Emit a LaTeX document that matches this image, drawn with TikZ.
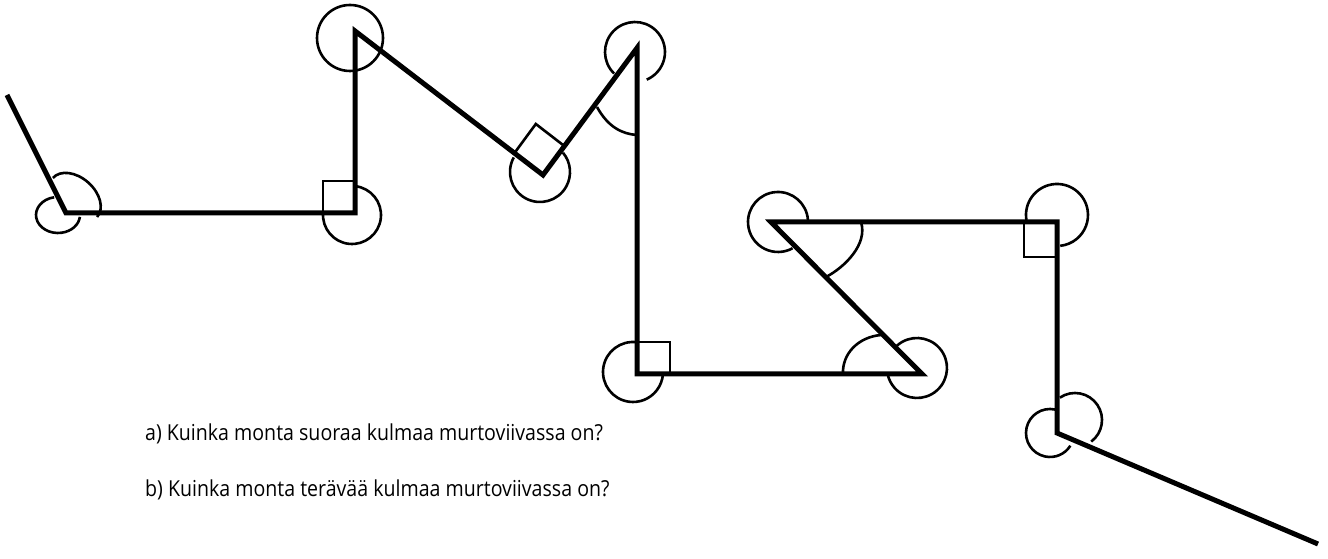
\documentclass[tikz,border=0pt]{standalone}
\usepackage{fontspec}
\setmainfont{Open Sans}
\begin{document}
\begin{tikzpicture}[x=1pt,y=1pt,
  polyline/.style={line width=5pt, line join=miter, line cap=butt},
  anglemark/.style={line width=2.6pt},
  question/.style={anchor=base west, inner sep=0pt, xscale=0.89, font=\fontsize{22}{26}\selectfont}]
\useasboundingbox (0,0) rectangle (1328,559);
% vertices
\coordinate (S) at (7,464);
\coordinate (V1) at (66,346);
\coordinate (V2) at (355,346);
\coordinate (V3) at (355,528);
\coordinate (V4) at (543,384);
\coordinate (V5) at (637,511);
\coordinate (V6) at (637,185);
\coordinate (V7) at (922,185);
\coordinate (V8) at (771,337);
\coordinate (V9) at (1057,337);
\coordinate (V10) at (1057,126);
\coordinate (E) at (1318,15);
% angle marks
% V1
\draw[anglemark] (58,344) ++(100:22 and 18) arc[start angle=100, end angle=354, x radius=22, y radius=18];
\draw[anglemark, shift={(75,361.5)}, rotate=-41.5] (-29.5,0) arc[start angle=180, end angle=0, x radius=29.5, y radius=20];
% V2
\draw[anglemark] (323,346) rectangle (355,378);
\draw[anglemark] (352,344) ++(84:29) arc[start angle=84, end angle=-184, radius=29];
% V3
\draw[anglemark] (350,521) circle[radius=33];
% V4
\draw[anglemark] (543,384) -- (514.5,406) -- (535.8,435) -- (564.3,413) -- cycle;
\draw[anglemark] (540,387) ++(151:30) arc[start angle=151, end angle=400, radius=30];
% V5
\draw[anglemark] (635,507) ++(226:30) arc[start angle=226, end angle=-67, radius=30];
\draw[anglemark] (597,452) .. controls (608,432) and (622,425) .. (637,424);
% V6
\draw[anglemark] (637,185) rectangle (670,217);
\draw[anglemark] (633,187) ++(82:30) arc[start angle=82, end angle=356, radius=30];
% V7
\draw[anglemark] (917,191) ++(132:30) arc[start angle=132, end angle=-168, radius=30];
\draw[anglemark] (843,185) .. controls (842,205) and (858,222) .. (881,224);
% V8
\draw[anglemark] (778,337) ++(4:30) arc[start angle=4, end angle=299, radius=30];
\draw[anglemark] (861,337) .. controls (868,315) and (845,292) .. (826,282);
% V9
\draw[anglemark] (1024,337) rectangle (1057,302);
\draw[anglemark] (1057,344) ++(189:31) arc[start angle=189, end angle=-84, radius=31];
% V10
\draw[anglemark] (1075,139) ++(124:27) arc[start angle=124, end angle=-53, radius=27];
\draw[anglemark] (1050,126) ++(78:24) arc[start angle=78, end angle=328, radius=24];
% broken line
\draw[polyline] (S) -- (V1) -- (V2) -- (V3) -- (V4) -- (V5) -- (V6) -- (V7) -- (V8) -- (V9) -- (V10) -- (E);
% questions
\node[question] (qa) at (145,118) {a) Kuinka monta suoraa kulmaa murtoviivassa on?};
\node[question] (qb) at (145,62) {b) Kuinka monta terävää kulmaa murtoviivassa on?};
\end{tikzpicture}
\end{document}
